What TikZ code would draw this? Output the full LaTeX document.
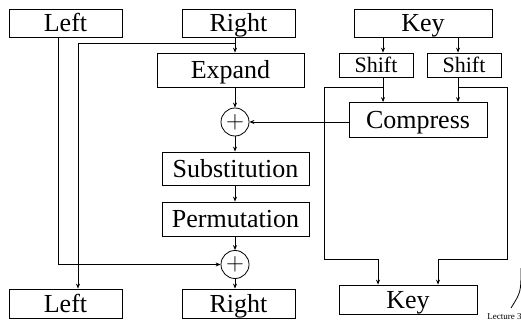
\documentclass[tikz,border=0pt]{standalone}
\usepackage{fontspec}
\setmainfont{Liberation Serif}
\usetikzlibrary{arrows.meta}
\begin{document}
\begin{tikzpicture}[x=1pt,y=-1pt,line width=0.8pt,>={Stealth[length=5pt,width=4pt]},
  box/.style={draw,inner sep=0pt,text height=17.4pt,text depth=0pt,font=\fontsize{26}{28}\selectfont},
  half/.style={box,minimum width=113pt,minimum height=28pt},
  stage/.style={box,minimum width=147pt,minimum height=34pt},
  small/.style={draw,inner sep=0pt,minimum width=74pt,minimum height=24pt,text height=14.7pt,text depth=0pt,font=\fontsize{22}{24}\selectfont},
  xor/.style={draw,circle,inner sep=0pt,minimum size=28pt,font=\fontsize{24}{24}\selectfont}]
\useasboundingbox (0,0) rectangle (521,320);
\node[half] (leftin) at (65.5,23) {Left};
\node[half] (rightin) at (238.5,23) {Right};
\node[box,minimum width=138pt,minimum height=28pt] (keyin) at (423,23) {Key};
\node[small] (shiftA) at (376,65) {Shift};
\node[small] (shiftB) at (464,65) {Shift};
\node[stage] (expand) at (230.5,70) {Expand};
\node[xor] (xorA) at (235,122) {$+$};
\node[box,minimum width=138pt,minimum height=35pt] (compress) at (418,120) {Compress};
\node[stage,minimum height=33pt] (subst) at (235.5,168.5) {Substitution};
\node[stage] (perm) at (235.5,219) {Permutation};
\node[xor] (xorB) at (235,264.5) {$+$};
\node[half,minimum height=29pt] (leftout) at (65.5,303.5) {Left};
\node[half,minimum height=29pt] (rightout) at (238.5,303.5) {Right};
\node[box,minimum width=138pt,minimum height=29pt] (keyout) at (408,299.5) {Key};

\coordinate (split) at (235,43);
\coordinate (bend) at (78,43);
\coordinate (ltap) at (58,0);
\coordinate (ka) at (383,0);
\coordinate (kb) at (458,0);
\coordinate (loopA) at (324,259);
\coordinate (loopB) at (507,259);

% data half
\draw[->] (rightin.south -| xorA) -- (expand.north -| xorA);
\draw (split) -- (bend);
\draw[->] (bend) -- (bend |- leftout.north);
\draw[->] (leftin.south -| ltap) |- (xorB.west);
\draw[->] (expand.south -| xorA) -- (xorA.north);
\draw[->] (compress.west |- xorA) -- (xorA.east);
\draw[->] (xorA.south) -- (subst.north -| xorA);
\draw[->] (subst.south -| xorA) -- (perm.north -| xorA);
\draw[->] (perm.south -| xorA) -- (xorB.north);
\draw[->] (xorB.south) -- (rightout.north -| xorB);

% key half
\draw[->] (keyin.south -| ka) -- (shiftA.north -| ka);
\draw[->] (keyin.south -| kb) -- (shiftB.north -| kb);
\draw[->] (shiftA.south -| ka) -- (compress.north -| ka);
\draw[->] (shiftB.south -| kb) -- (compress.north -| kb);
\draw[->] (ka |- 0,87) -| (loopA) -| ([xshift=-30pt]keyout.north);
\draw[->] (kb |- 0,87) -| (loopB) -| ([xshift=30pt]keyout.north);

\draw (521,268) .. controls (521,292) .. (511,308);
\node[anchor=south west,inner sep=0pt,font=\fontsize{9}{10}\selectfont] (lecture) at (487,320) {Lecture 3};
\end{tikzpicture}
\end{document}
